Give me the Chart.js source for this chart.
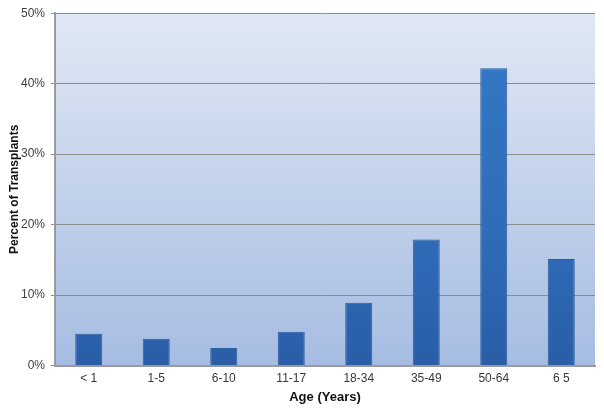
<!DOCTYPE html>
<html>
<head>
<meta charset="utf-8">
<script src="https://cdn.jsdelivr.net/npm/chart.js@4/dist/chart.umd.min.js"></script>
<style>
  html, body { margin: 0; padding: 0; background: #fff; }
  #wrap { width: 604px; height: 411px; }
</style>
</head>
<body>
<div id="wrap"><canvas id="transplantChart" width="604" height="411"></canvas></div>
<script>
var ageGroups = ["< 1", "1-5", "6-10", "11-17", "18-34", "35-49", "50-64", "6 5"];
var percentTransplants = [4.5, 3.8, 2.5, 4.8, 8.9, 17.9, 42.2, 15.1];
var yTicks = [0, 10, 20, 30, 40, 50];

// fill the plot area with the pale blue gradient
var plotBackground = {
    id: 'plotBackground',
    beforeDraw: function (chart) {
        var a = chart.chartArea;
        var c = chart.ctx;
        var g = c.createLinearGradient(0, a.top, 0, a.bottom);
        g.addColorStop(0, '#e0e8f4');
        g.addColorStop(1, '#a6bce2');
        c.save();
        c.fillStyle = g;
        c.fillRect(a.left, a.top, a.right - a.left, a.bottom - a.top);
        c.restore();
    }
};

function barFill(context) {
    var chart = context.chart;
    var a = chart.chartArea;
    if (!a) return '#3372bf';
    var g = chart.ctx.createLinearGradient(0, a.top, 0, a.bottom);
    g.addColorStop(0, '#3479c6');
    g.addColorStop(0.6, '#2f6dba');
    g.addColorStop(1, '#2a5ea7');
    return g;
}

var ctx = document.getElementById('transplantChart').getContext('2d');
var chart = new Chart(ctx, {
    type: 'bar',
    data: {
        labels: ageGroups,
        datasets: [{
            data: percentTransplants,
            backgroundColor: barFill,
            borderColor: '#2c5d9c',
            borderWidth: 1,
            barPercentage: 0.8,
            categoryPercentage: 0.5
        }]
    },
    plugins: [plotBackground],
    options: {
        responsive: false,
        animation: false,
        layout: { padding: { top: 8, right: 9, left: 7, bottom: 6 } },
        plugins: {
            legend: { display: false },
            tooltip: { enabled: false }
        },
        scales: {
            x: {
                grid: { display: false, drawTicks: false },
                border: { color: '#9a9a9a', width: 2 },
                ticks: {
                    color: '#383838',
                    font: { family: 'Liberation Sans', size: 12 },
                    padding: 6,
                    maxRotation: 0
                },
                title: {
                    display: true,
                    text: 'Age (Years)',
                    color: '#111',
                    font: { family: 'Liberation Sans', size: 13, weight: 'bold' },
                    padding: { top: -2.5, bottom: 0 }
                }
            },
            y: {
                min: 0,
                max: 50,
                afterBuildTicks: function (axis) {
                    axis.ticks = yTicks.map(function (v) { return { value: v }; });
                },
                // keep the axis as narrow as in the picture
                afterFit: function (axis) { axis.width = 48; },
                grid: {
                    color: '#8c8c8c',
                    lineWidth: 1,
                    tickLength: 4,
                    tickColor: '#8c8c8c'
                },
                border: { color: '#9a9a9a', width: 2 },
                ticks: {
                    color: '#404040',
                    font: { family: 'Liberation Sans', size: 12 },
                    padding: 6,
                    callback: function (v) { return v + '%'; }
                },
                title: {
                    display: true,
                    text: 'Percent of Transplants',
                    color: '#111',
                    font: { family: 'Liberation Sans', size: 12, weight: 'bold' },
                    padding: { top: 0, bottom: 0 }
                }
            }
        }
    }
});
</script>
</body>
</html>
